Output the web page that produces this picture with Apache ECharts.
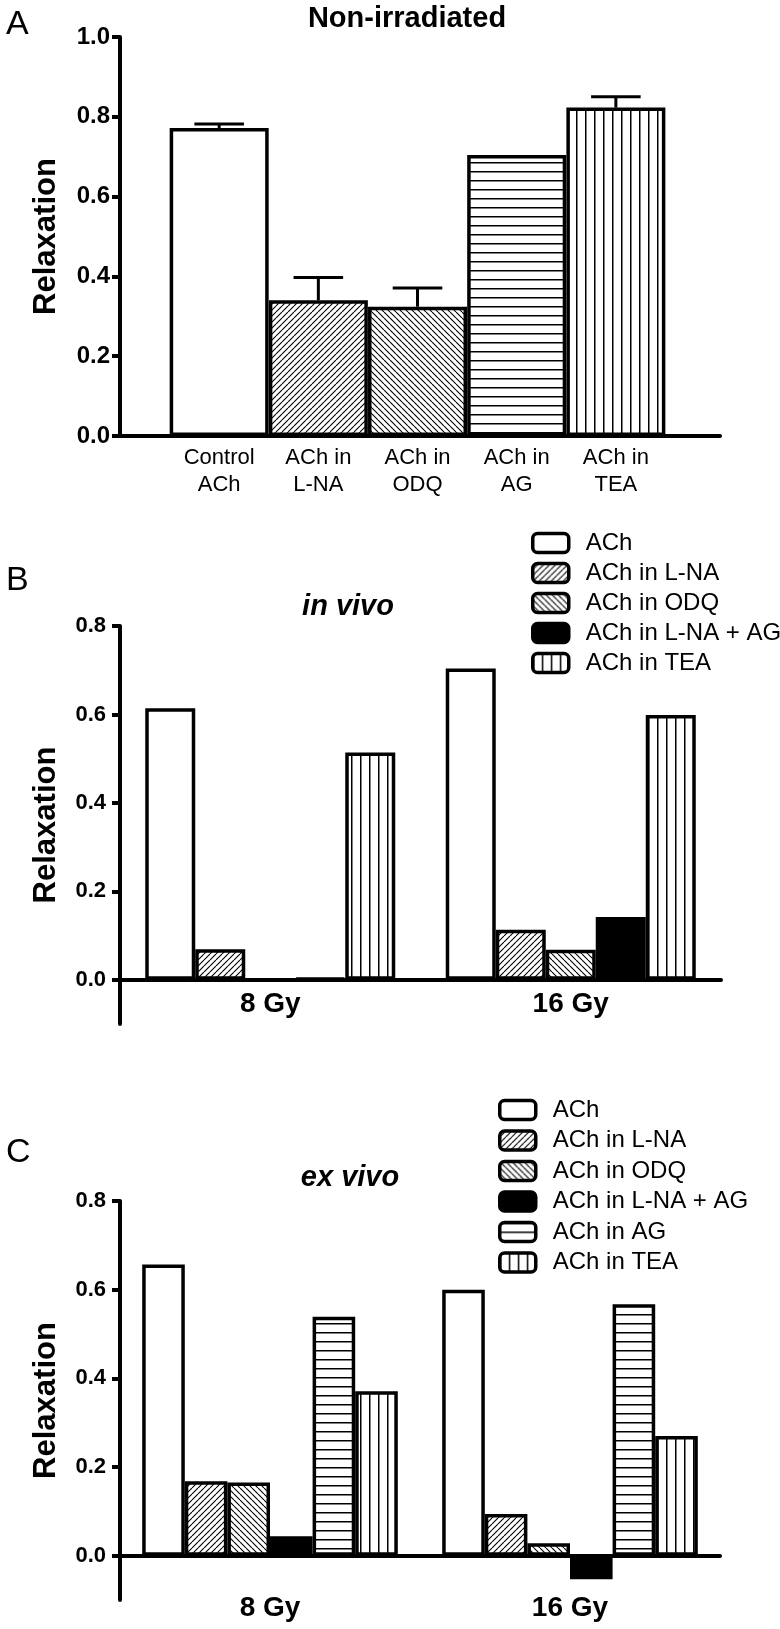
<!DOCTYPE html>
<html><head><meta charset="utf-8">
<script src="https://cdn.jsdelivr.net/npm/echarts@6/dist/echarts.min.js"></script>
<style>html,body{margin:0;padding:0;background:#fff}#c{width:780px;height:1629px}</style>
</head><body><div id="c"></div>
<script>
// ---------- data ----------
const catsA = ['Control\nACh', 'ACh in\nL-NA', 'ACh in\nODQ', 'ACh in\nAG', 'ACh in\nTEA'];
const valsA = [0.772, 0.340, 0.324, 0.704, 0.823];
const semA  = [0.010, 0.057, 0.047, 0.000, 0.027];
const ticksA = [0, 0.2, 0.4, 0.6, 0.8, 1.0];

const dosesB = ['8 Gy', '16 Gy'];
const achB    = [0.614, 0.704];
const lnaB    = [0.069, 0.113];
const odqB    = [null, 0.068];
const lnaAgB  = [0.004, 0.142];
const teaB    = [0.514, 0.599];

const dosesC = ['8 Gy', '16 Gy'];
const achC    = [0.657, 0.600];
const lnaC    = [0.168, 0.094];
const odqC    = [0.165, 0.028];
const lnaAgC  = [0.044, -0.053];
const agC     = [0.539, 0.567];
const teaC    = [0.371, 0.270];

const ticksBC = [0, 0.2, 0.4, 0.6, 0.8];

// ---------- styles ----------
const FONT = "'Liberation Sans', Arial, Helvetica, sans-serif";
function pat(kind) {
  const c = document.createElement('canvas');
  let w, h;
  if (kind === 'fwd' || kind === 'back') { w = 6; h = 6; }
  else if (kind === 'horiz') { w = 8; h = 9; }
  else { w = 9; h = 8; }
  c.width = w; c.height = h;
  const g = c.getContext('2d');
  g.fillStyle = '#fff'; g.fillRect(0, 0, w, h);
  g.strokeStyle = '#000'; g.fillStyle = '#000'; g.lineWidth = 1.1;
  if (kind === 'fwd') {
    g.beginPath();
    for (let k = -1; k <= 1; k++) { g.moveTo(k * w, h); g.lineTo(k * w + w, 0); }
    g.stroke();
  } else if (kind === 'back') {
    g.beginPath();
    for (let k = -1; k <= 1; k++) { g.moveTo(k * w, 0); g.lineTo(k * w + w, h); }
    g.stroke();
  } else if (kind === 'horiz') {
    g.fillRect(0, 0, w, 1.5);
  } else {
    g.fillRect(0, 0, 1.5, h);
  }
  return { image: c, repeat: 'repeat' };
}
const fill = {
  'ACh': '#ffffff',
  'ACh in L-NA': pat('fwd'),
  'ACh in ODQ': pat('back'),
  'ACh in L-NA + AG': '#000000',
  'ACh in AG': pat('horiz'),
  'ACh in TEA': pat('vert')
};
const fillA = [fill['ACh'], fill['ACh in L-NA'], fill['ACh in ODQ'], fill['ACh in AG'], fill['ACh in TEA']];
const BW = 3.5;

const namesB = ['ACh', 'ACh in L-NA', 'ACh in ODQ', 'ACh in L-NA + AG', 'ACh in TEA'];
const dataB = [achB, lnaB, odqB, lnaAgB, teaB];
const namesC = ['ACh', 'ACh in L-NA', 'ACh in ODQ', 'ACh in L-NA + AG', 'ACh in AG', 'ACh in TEA'];
const dataC = [achC, lnaC, odqC, lnaAgC, agC, teaC];

function yAxisBase(gi, extra) {
  return Object.assign({
    gridIndex: gi, type: 'value',
    axisLine: { show: true, onZero: false, lineStyle: { color: '#000', width: 4 } },
    axisTick: { show: true, length: 8, lineStyle: { color: '#000', width: 4 } },
    splitLine: { show: false },
    name: 'Relaxation', nameLocation: 'middle', nameGap: 58,
    nameTextStyle: { fontSize: 31, fontWeight: 'bold', color: '#000', fontFamily: FONT }
  }, extra);
}

const series = [];
series.push({
  type: 'bar', name: 'Non-irradiated', xAxisIndex: 0, yAxisIndex: 0,
  barWidth: 99,
  data: valsA.map((v, i) => ({ value: [i, v], itemStyle: { color: fillA[i] } })),
  itemStyle: { borderColor: '#000', borderWidth: BW },
  z: 2
});
series.push({
  type: 'custom', name: 'SEM', xAxisIndex: 0, yAxisIndex: 0,
  data: valsA.map((v, i) => [i, v, semA[i]]),
  renderItem: function (params, api) {
    const x = api.value(0), y = api.value(1), e = api.value(2);
    if (!(e > 0)) return null;
    const p0 = api.coord([x, y]);
    const p1 = api.coord([x, y + e]);
    const hw = api.size([1, 0])[0] * 0.25;
    const st = { stroke: '#000', lineWidth: 3 };
    return {
      type: 'group', children: [
        { type: 'line', shape: { x1: p0[0], y1: p0[1], x2: p1[0], y2: p1[1] }, style: st },
        { type: 'line', shape: { x1: p1[0] - hw, y1: p1[1], x2: p1[0] + hw, y2: p1[1] }, style: st }
      ]
    };
  },
  z: 3
});
namesB.forEach((n, i) => series.push({
  type: 'bar', name: n, xAxisIndex: 1, yAxisIndex: 1, data: dataB[i],
  barGap: '0%', barCategoryGap: '16.8%',
  itemStyle: { color: fill[n], borderColor: '#000', borderWidth: BW }
}));
namesC.forEach((n, i) => series.push({
  type: 'bar', name: n, xAxisIndex: 2, yAxisIndex: 2, data: dataC[i],
  barGap: '0%', barCategoryGap: '14.8%',
  itemStyle: { color: fill[n], borderColor: '#000', borderWidth: BW }
}));

function legendAt(left, top, names, gap) {
  return {
    orient: 'vertical', left: left, top: top, padding: 0,
    itemWidth: 36, itemHeight: 19, itemGap: gap, selectedMode: false,
    data: names,
    itemStyle: { borderColor: '#000', borderWidth: 3.5 },
    textStyle: { fontSize: 24, color: '#000', fontFamily: FONT, padding: [0, 0, 0, 12] }
  };
}

function txt(x, y, s, font, align) {
  return { type: 'text', x: x, y: y, silent: true,
    style: { text: s, font: font, fill: '#000', align: align, verticalAlign: 'middle',
             textAlign: align, textVerticalAlign: 'middle' } };
}

const option = {
  backgroundColor: '#fff',
  animation: false,
  textStyle: { fontFamily: FONT },
  grid: [
    { left: 120, right: 60, top: 37, height: 399, outerBoundsMode: 'none' },
    { left: 120, right: 59, top: 626, height: 398, outerBoundsMode: 'none' },
    { left: 120, right: 60, top: 1201, height: 399, outerBoundsMode: 'none' }
  ],
  xAxis: [
    { gridIndex: 0, type: 'value', min: -1, max: 5.05, interval: 1,
      axisLine: { show: true, onZero: false, lineStyle: { color: '#000', width: 4 } },
      axisTick: { show: false }, splitLine: { show: false },
      axisLabel: { color: '#000', fontSize: 22, lineHeight: 27, margin: 8, fontFamily: FONT,
        showMinLabel: true, showMaxLabel: true,
        formatter: v => (Number.isInteger(v) && v >= 0 && v < catsA.length) ? catsA[v] : '' } },
    { gridIndex: 1, type: 'category', data: dosesB,
      axisLine: { show: true, onZero: true, lineStyle: { color: '#000', width: 4 } },
      axisTick: { show: false },
      axisLabel: { color: '#000', fontSize: 28, fontWeight: 'bold', margin: -34, fontFamily: FONT } },
    { gridIndex: 2, type: 'category', data: dosesC,
      axisLine: { show: true, onZero: true, lineStyle: { color: '#000', width: 4 } },
      axisTick: { show: false },
      axisLabel: { color: '#000', fontSize: 28, fontWeight: 'bold', margin: -6, fontFamily: FONT } }
  ],
  yAxis: [
    yAxisBase(0, { min: 0, max: 1, interval: 0.2,
      axisLabel: { color: '#000', fontSize: 24, fontWeight: 'bold', margin: 10, fontFamily: FONT,
        formatter: v => v.toFixed(1) } }),
    yAxisBase(1, { min: -0.1, max: 0.8,
      axisTick: { show: true, length: 8, customValues: ticksBC, lineStyle: { color: '#000', width: 4 } },
      axisLabel: { color: '#000', fontSize: 22, fontWeight: 'bold', margin: 14, fontFamily: FONT,
        customValues: ticksBC, formatter: v => v.toFixed(1) } }),
    yAxisBase(2, { min: -0.1, max: 0.8,
      axisTick: { show: true, length: 8, customValues: ticksBC, lineStyle: { color: '#000', width: 4 } },
      axisLabel: { color: '#000', fontSize: 22, fontWeight: 'bold', margin: 14, fontFamily: FONT,
        customValues: ticksBC, formatter: v => v.toFixed(1) } })
  ],
  legend: [legendAt(531, 531, namesB, 6), legendAt(498, 1098, namesC, 6.5)],
  graphic: [
    txt(6, 25, 'A', "34px " + FONT, 'left'),
    txt(407, 19, 'Non-irradiated', "bold 29px " + FONT, 'center'),
    txt(6, 581, 'B', "34px " + FONT, 'left'),
    txt(348, 607, 'in vivo', "italic bold 29px " + FONT, 'center'),
    txt(6, 1153, 'C', "34px " + FONT, 'left'),
    txt(350, 1178, 'ex vivo', "italic bold 29px " + FONT, 'center')
  ],
  series: series
};
const chart = echarts.init(document.getElementById('c'), null, { renderer: 'canvas' });
chart.setOption(option);
</script></body></html>
